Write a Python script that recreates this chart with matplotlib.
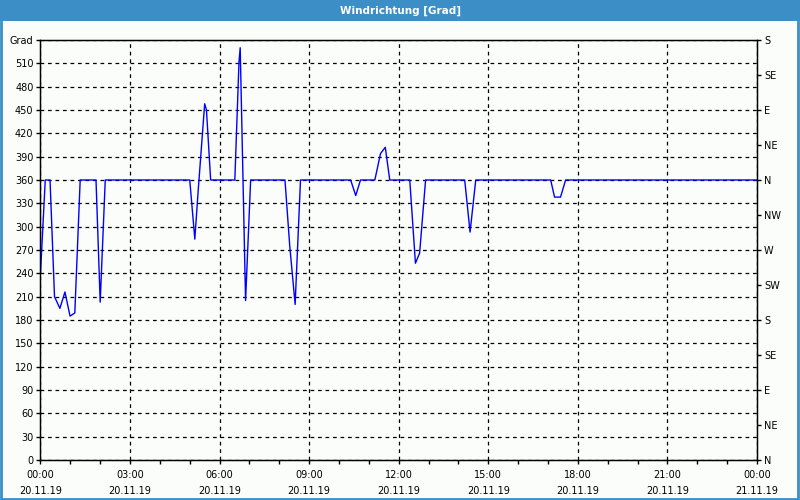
import matplotlib.pyplot as plt
from matplotlib.patches import Rectangle

# Data: wind direction (hours since 20.11.19 00:00, degrees)
hours = [0.00, 0.16, 0.32, 0.47, 0.65, 0.82, 0.99, 1.15, 1.33, 1.86, 2.00, 2.17,
         5.00, 5.17, 5.28, 5.50, 5.56, 5.70,
         6.51, 6.65, 6.69, 6.87, 7.04,
         8.19, 8.35, 8.53, 8.71,
         10.39, 10.56, 10.72,
         11.20, 11.39, 11.55, 11.70,
         12.37, 12.56, 12.70, 12.90,
         14.21, 14.39, 14.58,
         17.09, 17.22, 17.42, 17.59,
         24.00]
degrees = [240, 360, 360, 210, 195, 216, 185, 189, 360, 360, 203, 360,
           360, 284, 345, 458, 450, 360,
           360, 512, 530, 205, 360,
           360, 275, 200, 360,
           360, 340, 360,
           360, 394, 402, 360,
           360, 253, 266, 360,
           360, 293, 360,
           360, 338, 338, 360,
           360]

y_ticks = list(range(0, 541, 30))
y_labels = [str(v) for v in range(0, 511, 30)] + ["Grad"]
compass_ticks = list(range(0, 541, 45))
compass_labels = ["N", "NE", "E", "SE", "S", "SW", "W", "NW", "N", "NE", "E", "SE", "S"]
x_ticks = list(range(0, 25, 3))
x_labels = ["00:00\n20.11.19", "03:00\n20.11.19", "06:00\n20.11.19", "09:00\n20.11.19",
            "12:00\n20.11.19", "15:00\n20.11.19", "18:00\n20.11.19", "21:00\n20.11.19",
            "00:00\n21.11.19"]

bg = "#fafdfa"
frame_blue = "#3c8fc6"

fig = plt.figure(figsize=(8, 5), dpi=100, facecolor=bg)

# title bar and outer frame
fig.patches.append(Rectangle((0, 0.958), 1, 0.042, transform=fig.transFigure,
                             facecolor=frame_blue, edgecolor="none", zorder=0))
fig.patches.append(Rectangle((0.001, 0.002), 0.997, 0.995, transform=fig.transFigure,
                             facecolor="none", edgecolor=frame_blue, linewidth=2, zorder=5))
fig.text(0.5, 0.979, "Windrichtung [Grad]", color="white", fontsize=7.5,
         fontweight="bold", ha="center", va="center")

ax = fig.add_axes([0.0506, 0.08, 0.8956, 0.84])
ax.set_facecolor(bg)
ax.plot(hours, degrees, color="#0000ff", linewidth=1, zorder=3)

ax.set_xlim(0, 24)
ax.set_ylim(0, 540)
ax.set_yticks(y_ticks)
ax.set_yticklabels(y_labels, fontsize=7)
ax.set_xticks(x_ticks)
ax.set_xticklabels(x_labels, fontsize=7, linespacing=1.75)
ax.set_xticks(range(0, 25), minor=True)
ax.tick_params(axis="both", which="both", direction="out", length=3, width=1, pad=2)
ax.tick_params(axis="x", which="major", pad=4)

ax.grid(True, which="major", color="black", linestyle=(0, (3, 3)), linewidth=0.9)
for s in ax.spines.values():
    s.set_color("black")
    s.set_linewidth(1)

ax2 = ax.twinx()
ax2.set_ylim(0, 540)
ax2.set_yticks(compass_ticks)
ax2.set_yticklabels(compass_labels, fontsize=7)
ax2.tick_params(axis="y", direction="out", length=3, width=1, pad=2)

fig.savefig("out.png", dpi=100, facecolor=bg)
